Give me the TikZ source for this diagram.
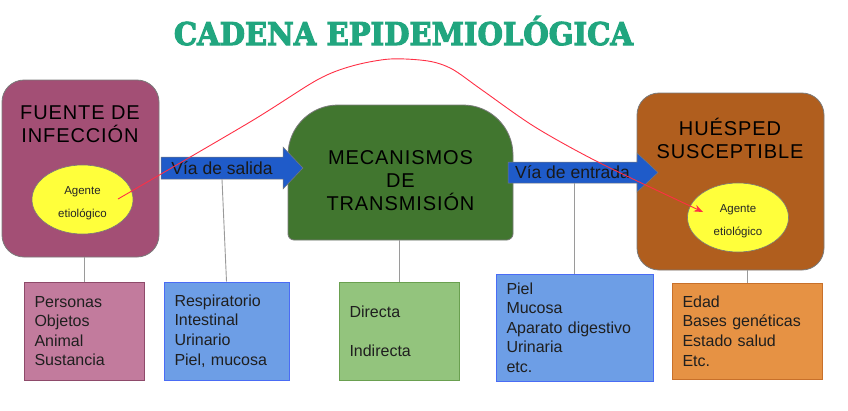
\documentclass[tikz,border=0pt]{standalone}
\usepackage{fontspec}
\setmainfont{Liberation Sans}
\newfontfamily\titlefont[FakeBold=3.5]{DejaVu Serif}
\newfontfamily\bigfont[LetterSpace=4.5]{Liberation Sans}
\usetikzlibrary{shapes.geometric,arrows.meta}
\definecolor{cTitle}{HTML}{21A67F}
\definecolor{cFuente}{HTML}{A34F75}
\definecolor{cMec}{HTML}{41762F}
\definecolor{cHues}{HTML}{B05E1E}
\definecolor{cYel}{HTML}{FFFF3B}
\definecolor{cArrow}{HTML}{1F5BC9}
\definecolor{cPink}{HTML}{C27B9D}
\definecolor{cPinkB}{HTML}{8E4A6A}
\definecolor{cBlue}{HTML}{6D9EE6}
\definecolor{cBlueB}{HTML}{4A6CF5}
\definecolor{cGreen}{HTML}{93C47D}
\definecolor{cGreenB}{HTML}{6AA050}
\definecolor{cOrange}{HTML}{E69244}
\definecolor{cOrangeB}{HTML}{C8702A}
\definecolor{cRed}{HTML}{FF2F45}
\definecolor{cOutline}{HTML}{7A7A7A}
\definecolor{cConn}{HTML}{9A9A9A}
\begin{document}
\begin{tikzpicture}[x=1pt,y=-1pt,
  bigbox/.style={draw=cOutline, line width=0.8pt, rounded corners=22pt, inner sep=0pt},
  bigtext/.style={align=center, text=black, inner sep=0pt, font=\bigfont\fontsize{20}{23}\selectfont},
  agente/.style={ellipse, draw=cOutline, line width=0.6pt, fill=cYel, minimum width=101, minimum height=69, inner sep=0pt},
  agtext/.style={align=center, inner sep=0pt, text=black!85, font=\fontsize{11.5}{23}\selectfont},
  arrowshape/.style={fill=cArrow, draw=cOutline, line width=0.5pt},
  arrowtext/.style={inner sep=0pt, text=black!90, font=\fontsize{17.5}{20}\selectfont},
  smallbox/.style={line width=1pt, inner xsep=10.5pt, inner ysep=0pt, align=left, text=black!88, font=\fontsize{16}{19.6}\selectfont},
  conn/.style={draw=cConn, line width=0.9pt},
  redline/.style={draw=cRed, line width=0.9pt, -{Stealth[length=9pt,width=7pt]}}
]
\useasboundingbox (0,0) rectangle (848,410);

% title
\node[anchor=base, inner sep=0pt, text=cTitle] (title) at (403.5,45) {\resizebox{459pt}{29pt}{\titlefont\bfseries CADENA EPIDEMIOLÓGICA}};

% big boxes
\node[bigbox, fill=cFuente, minimum width=157, minimum height=177] (fuente) at (80.5,168.5) {};
\node[bigtext] (fuentetxt) at (80,124) {FUENTE DE\\INFECCIÓN};

\node[bigbox, fill=cHues, minimum width=187, minimum height=177] (hues) at (730.5,181.5) {};
\node[bigtext] (huestxt) at (730,138) {HUÉSPED\\SUSCEPTIBLE};

\node[minimum width=225, minimum height=135, inner sep=0pt] (mec) at (400.5,172.5) {};
\path[fill=cMec, draw=cOutline, line width=0.8pt]
  (288,234) -- (288,155) .. controls (288,127.4) and (310.4,105) .. (338,105)
  -- (463,105) .. controls (490.6,105) and (513,127.4) .. (513,155)
  -- (513,234) .. controls (513,237.3) and (509.7,240) .. (507,240)
  -- (294,240) .. controls (290.7,240) and (288,237.3) .. (288,234) -- cycle;
\node[bigtext] (mectxt) at (400.5,181) {MECANISMOS\\DE\\TRANSMISIÓN};

% agente etiologico
\node[agente] (ag1) at (82.5,199.5) {};
\node[agtext] (ag1txt) at (82.5,203.5) {Agente\\etiológico};
\node[agente] (ag2) at (738,217.5) {};
\node[agtext] (ag2txt) at (738,221.5) {Agente\\etiológico};

% arrows
\path[arrowshape] (161,157) -- (283,157) -- (283,147) -- (303,168) -- (283,189) -- (283,179) -- (161,179) -- cycle;
\node[arrowtext, minimum width=122, minimum height=22] (salida) at (222,168) {Vía de salida};
\path[arrowshape] (508,162) -- (637,162) -- (637,153) -- (658,172.5) -- (637,192) -- (637,183) -- (508,183) -- cycle;
\node[arrowtext, minimum width=129, minimum height=21] (entrada) at (572.5,172.5) {Vía de entrada};

% bottom boxes
\node[smallbox, draw=cPinkB, fill=cPink, text width=99pt, minimum height=98] (pers) at (84,331) {Personas\\Objetos\\Animal\\Sustancia};
\node[smallbox, draw=cBlueB, fill=cBlue, text width=104pt, minimum height=98] (resp) at (226.5,331) {Respiratorio\\Intestinal\\Urinario\\Piel, mucosa};
\node[smallbox, draw=cGreenB, fill=cGreen, text width=99pt, minimum height=98] (dir) at (399,331) {Directa\\[19.6pt]Indirecta};
\node[smallbox, draw=cBlueB, fill=cBlue, text width=136pt, minimum height=107] (piel) at (574.5,327.5) {Piel\\Mucosa\\Aparato digestivo\\Urinaria\\etc.};
\node[smallbox, draw=cOrangeB, fill=cOrange, text width=129pt, minimum height=96] (edad) at (747,331) {Edad\\Bases genéticas\\Estado salud\\Etc.};

% connectors
\draw[conn] (pers.north) -- (pers.north |- fuente.south);
\draw[conn] (resp.north) -- (salida.south);
\draw[conn] (dir.north) -- (dir.north |- mec.south);
\draw[conn] (piel.north) -- (piel.north |- entrada.south);
\draw[conn] (edad.north) -- (edad.north |- hues.south);

% red curve
\coordinate (cs) at (118,199);
\coordinate (ce) at (703,212);
\draw[redline] plot[smooth, tension=0.5] coordinates {(cs) (250,122) (317,80) (352,66) (390,59) (428,61) (452,69) (482,90) (535,127) (600,163) (ce)};
\end{tikzpicture}
\end{document}
